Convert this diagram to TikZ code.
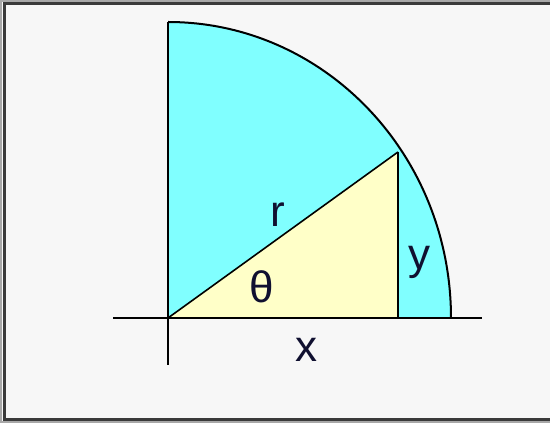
\documentclass[tikz,border=0pt]{standalone}
\usepackage{fontspec}
\setmainfont{Liberation Sans}
\definecolor{bgc}{HTML}{F7F7F7}
\definecolor{cyanfill}{HTML}{80FFFF}
\definecolor{yellowfill}{HTML}{FFFFC8}
\definecolor{framedark}{HTML}{3A3A3A}
\definecolor{framelight}{HTML}{A8A8A8}
\definecolor{txt}{HTML}{101030}
\begin{document}
\begin{tikzpicture}[x=1pt,y=1pt,
  ln/.style={line width=2pt,draw=black},
  lbl/.style={font=\fontsize{44}{44}\selectfont,text=txt,anchor=base,inner sep=0pt}]
\useasboundingbox (0,0) rectangle (550,423);
\fill[bgc] (0,0) rectangle (550,423);
% frame
\draw[framelight,line width=2pt] (551,422) -- (1,422) -- (1,1) -- (551,1);
\draw[framedark,line width=2.5pt] (551,419.5) -- (4.5,419.5) -- (4.5,3.5) -- (551,3.5);
% coordinates
\coordinate (O) at (168,105);
\coordinate (T) at (168,401);
\coordinate (R) at (451,105);
\coordinate (A) at (398,271);
\coordinate (F) at (398,105);
\coordinate (L) at (113,105);
\coordinate (E) at (482,105);
\coordinate (B) at (168,58);
% quarter disc
\fill[cyanfill] (O) -- (T) arc[start angle=90,end angle=0,x radius=283,y radius=296] -- cycle;
% triangle
\fill[yellowfill] (O) -- (A) -- (F) -- cycle;
\draw[line width=1.6pt] (O) -- (A);
\draw[ln] (A) -- (F);
% arc
\draw[line width=2pt] (T) arc[start angle=90,end angle=0,x radius=283,y radius=296];
% axes
\draw[ln] (L) -- (E);
\draw[ln] (B) -- (T);
% labels
\node[lbl] (lx) at (306,61) {x};
\node[lbl] (lr) at (278,196) {r};
\node[lbl] (lt) at (262,120) {θ};
\node[lbl] (ly) at (419,153) {y};
\end{tikzpicture}
\end{document}
